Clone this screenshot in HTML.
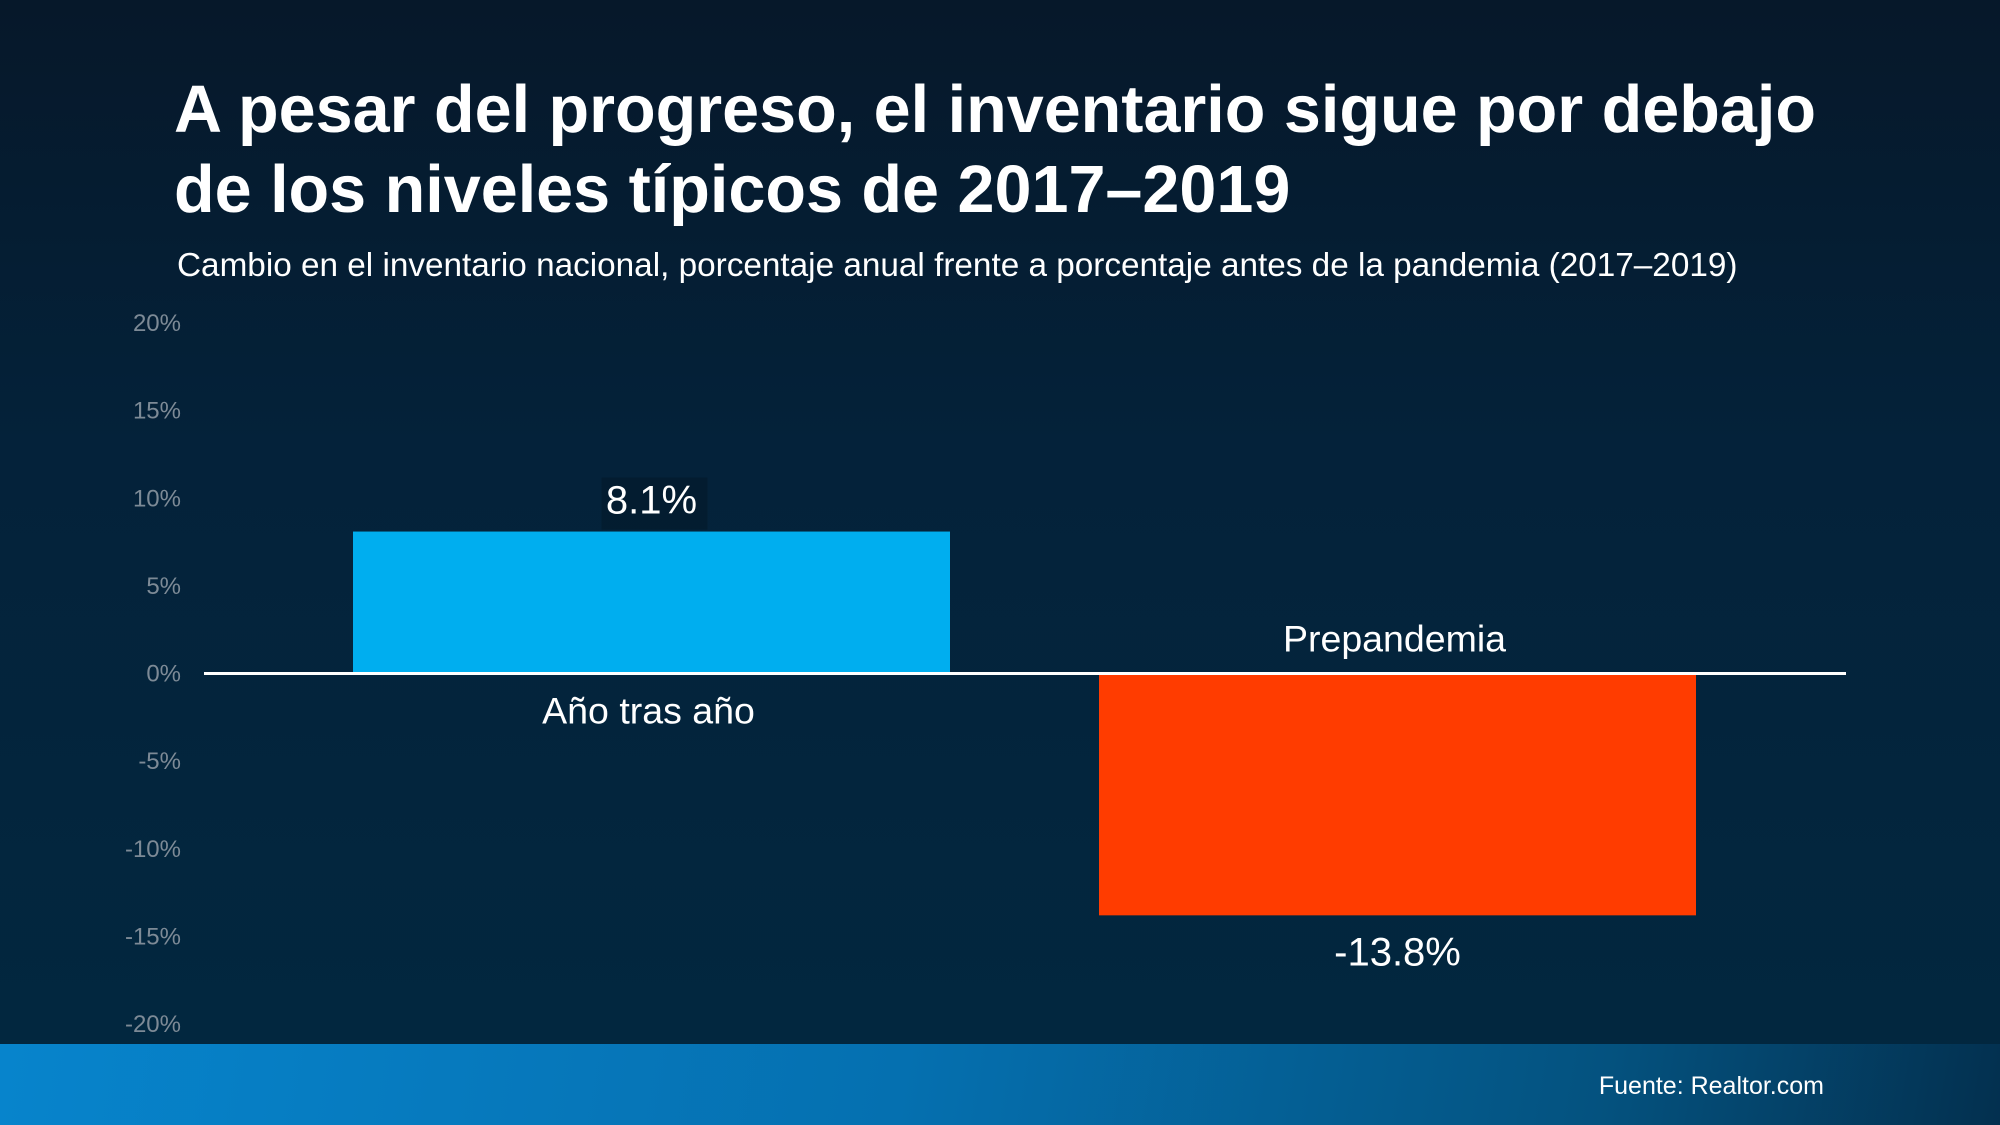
<!DOCTYPE html>
<html><head><meta charset="utf-8"><style>
html,body{margin:0;padding:0}
body{width:2000px;height:1125px;overflow:hidden;position:relative;font-family:"Liberation Sans",sans-serif;
background:linear-gradient(180deg,#06182a 0%,#04223a 40%,#022840 100%);}
.t{position:absolute;color:#fff}
#footer{position:absolute;left:0;top:1044px;width:2000px;height:81px;background:linear-gradient(100deg,#0784cc 0%,#0570b0 45%,#04527f 80%,#03304f 100%)}
</style></head><body>
<div class="t" style="left:174px;top:70px;font-size:66.5px;font-weight:bold;line-height:80px;">A pesar del progreso, el inventario sigue por debajo<br>de los niveles típicos de 2017–2019</div>
<div class="t" style="left:177px;top:247px;font-size:33.3px;">Cambio en el inventario nacional, porcentaje anual frente a porcentaje antes de la pandemia (2017–2019)</div>
<svg id="chart" width="2000" height="1125" style="position:absolute;left:0;top:0"></svg>
<div id="footer">
<div class="t" style="right:176px;top:28px;font-size:25px;">Fuente: Realtor.com</div>
</div>
<script>
const categories=["Año tras año","Prepandemia"];
const values=[8.1,-13.8];
const valueLabels=["8.1%","-13.8%"];
const ticks=[20,15,10,5,0,-5,-10,-15,-20];
const colors=["#00aeef","#ff3c00"];
const NS="http://www.w3.org/2000/svg";
const svg=document.getElementById("chart");
function y(v){return 673.5-v*(701/40);}
const barX=[353,1099],barW=597;
function mk(tag,attrs,txt){const e=document.createElementNS(NS,tag);for(const k in attrs)e.setAttribute(k,attrs[k]);if(txt!==undefined)e.textContent=txt;svg.appendChild(e);return e;}
ticks.forEach(t=>{
 const e=mk("text",{x:181,y:y(t)+8,"text-anchor":"end","font-size":24,fill:"#7d8a96","font-family":"Liberation Sans"},t+"%");
 
 
});
values.forEach((v,i)=>{
 const top=Math.min(y(v),y(0)),h=Math.abs(y(v)-y(0));
 const r=mk("rect",{x:barX[i],y:top,width:barW,height:h,fill:colors[i]});
 
 
 const cx=barX[i]+barW/2;
 const vy=v>=0?y(v)-18:y(v)+50;
 if(v>=0){const b=mk("rect",{x:cx-50,y:y(v)-54,width:106,height:52,fill:"#04192a",opacity:0.6});
  
  }
 const vl=mk("text",{x:cx,y:vy,"text-anchor":"middle","font-size":40,fill:"#fff","font-family":"Liberation Sans"},valueLabels[i]);
 
 
 const cy=v>=0?y(0)+50:y(0)-22;
 const cl=mk("text",{x:cx-3,y:cy,"text-anchor":"middle","font-size":37.5,fill:"#fff","font-family":"Liberation Sans"},categories[i]);
 
 
});
const zl=mk("line",{x1:204,x2:1846,y1:y(0),y2:y(0),stroke:"#fff","stroke-width":3});


</script>
</body></html>
